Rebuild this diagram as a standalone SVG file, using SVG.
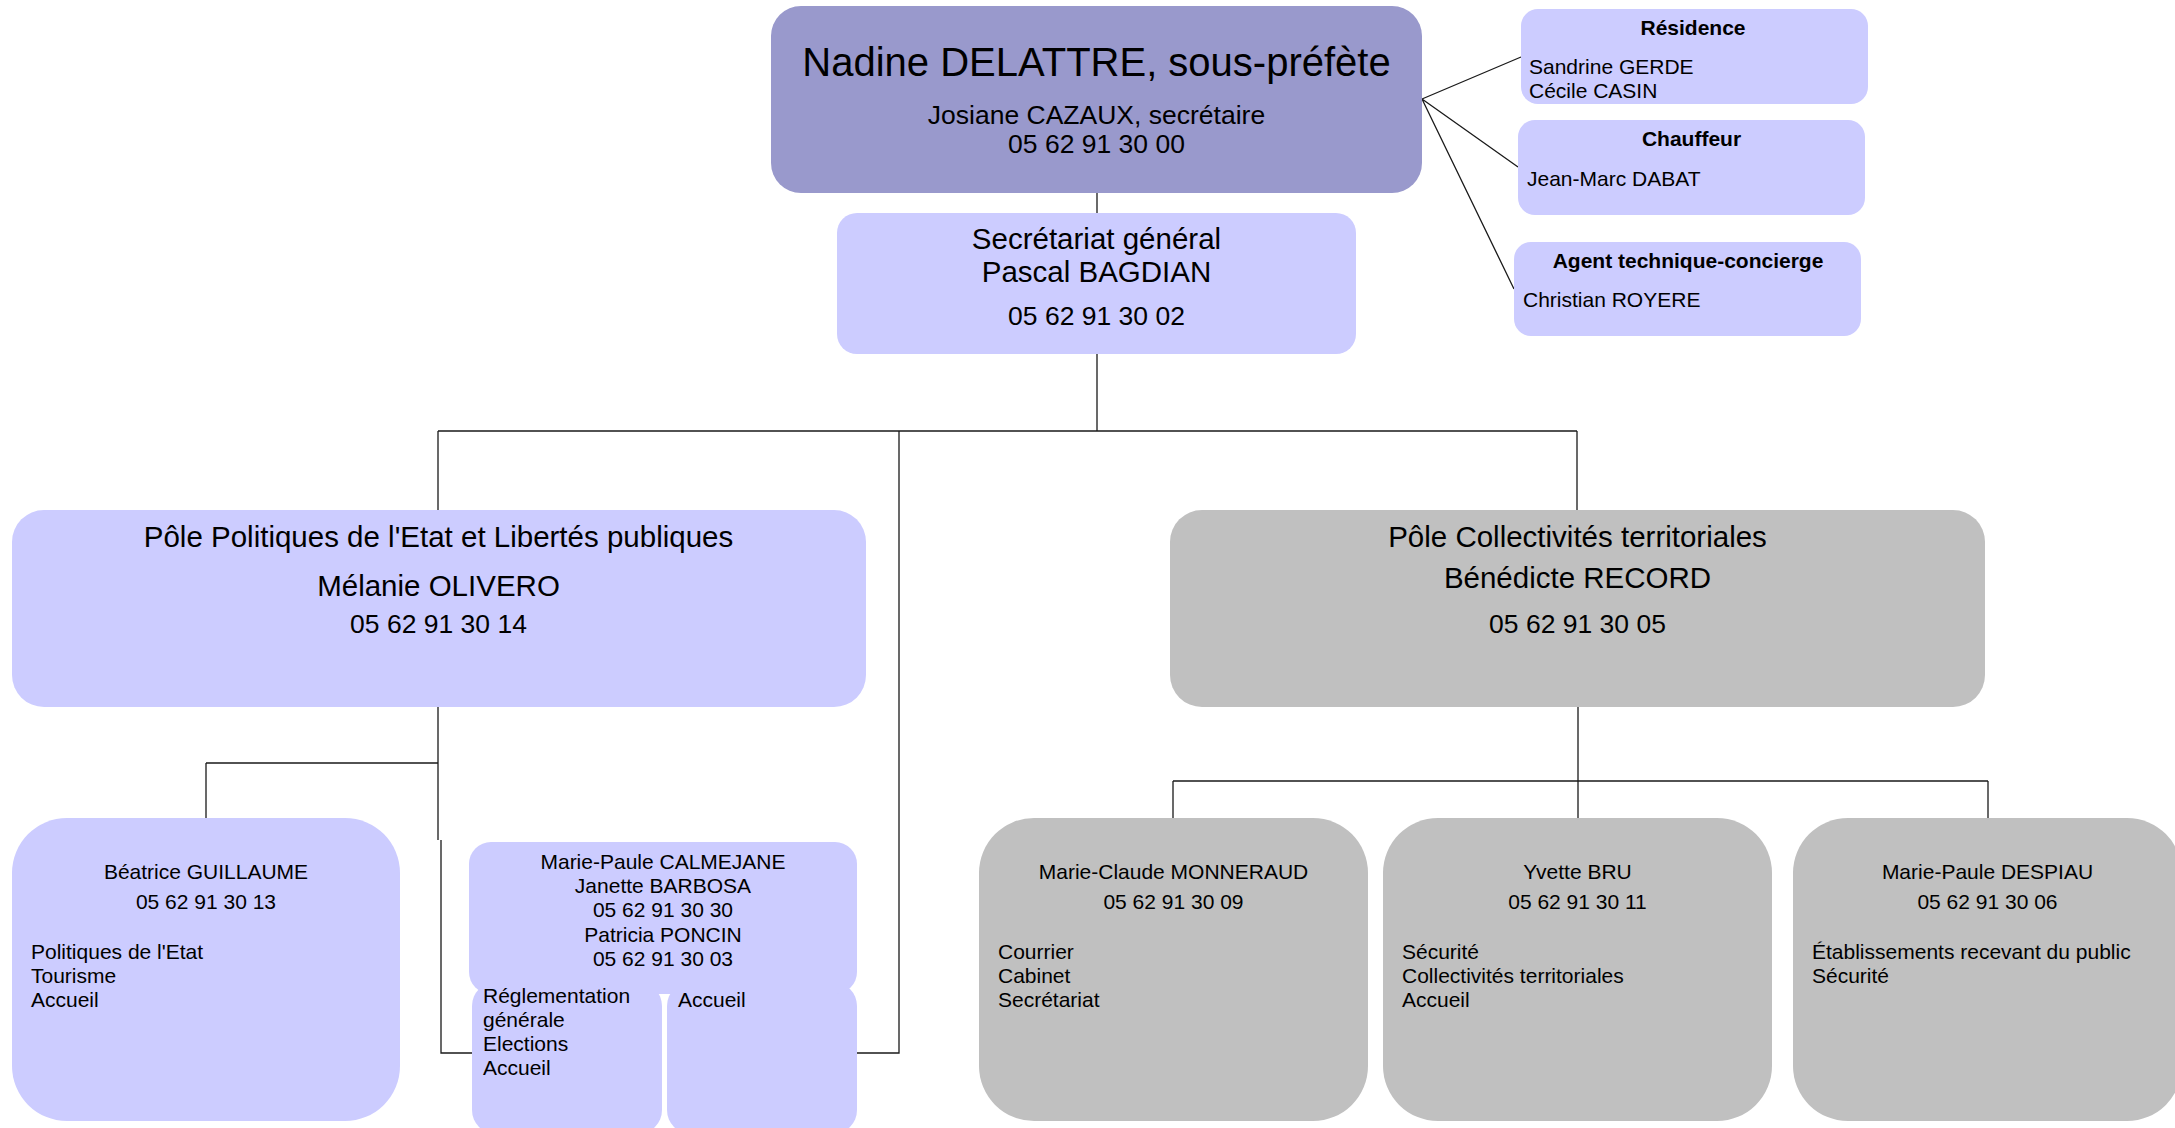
<svg xmlns="http://www.w3.org/2000/svg" width="2175" height="1128" viewBox="0 0 2175 1128">
<style>
text{font-family:"Liberation Sans",Arial,sans-serif;fill:#000}
.c{text-anchor:middle}
.b{font-weight:bold}
.lilac{fill:#ccccff}
.dark{fill:#9999cc}
.gray{fill:#c0c0c0}
.conn{stroke:#1a1a1a;stroke-width:1.3;fill:none}
.s21{font-size:21px}
.s26{font-size:26.5px}
.s29{font-size:29.5px}
</style>
<rect width="2175" height="1128" fill="#ffffff"/>
<g id="connectors">
<path class="conn" d="M1097,193 V213"/>
<path class="conn" d="M1097,354 V431 M438,431 H1577 M438,431 V510 M1577,431 V510"/>
<path class="conn" d="M899,431 V1053 H857"/>
<path class="conn" d="M1422,99 L1521,57 M1422,99 L1518,167 M1422,99 L1514,289"/>
<path class="conn" d="M438,707 V840 M441,840 V1053 H472 M206,763 H438 M206,763 V818"/>
<path class="conn" d="M1578,707 V818 M1173,781 H1988 M1173,781 V818 M1988,781 V818"/>
</g>
<g id="n-sousprefete">
<rect class="dark" x="771" y="6" width="651" height="187" rx="30"/>
<text class="c" x="1096.5" y="76" font-size="40">Nadine DELATTRE, sous-préfète</text>
<text class="c s26" x="1096.5" y="124">Josiane CAZAUX, secrétaire</text>
<text class="c s26" x="1096.5" y="153">05 62 91 30 00</text>
</g>
<g id="n-residence">
<rect class="lilac" x="1521" y="9" width="347" height="95" rx="17"/>
<text class="c s21 b" x="1693" y="35">Résidence</text>
<text class="s21" x="1529" y="74">Sandrine GERDE</text>
<text class="s21" x="1529" y="98">Cécile CASIN</text>
</g>
<g id="n-chauffeur">
<rect class="lilac" x="1518" y="120" width="347" height="95" rx="17"/>
<text class="c s21 b" x="1691.5" y="146">Chauffeur</text>
<text class="s21" x="1527" y="186">Jean-Marc DABAT</text>
</g>
<g id="n-agent">
<rect class="lilac" x="1514" y="242" width="347" height="94" rx="17"/>
<text class="c s21 b" x="1688" y="268">Agent technique-concierge</text>
<text class="s21" x="1523" y="307">Christian ROYERE</text>
</g>
<g id="n-secgen">
<rect class="lilac" x="837" y="213" width="519" height="141" rx="20"/>
<text class="c s29" x="1096.5" y="249">Secrétariat général</text>
<text class="c s29" x="1096.5" y="282">Pascal BAGDIAN</text>
<text class="c s26" x="1096.5" y="325">05 62 91 30 02</text>
</g>
<g id="n-pole-etat">
<rect class="lilac" x="12" y="510" width="854" height="197" rx="32"/>
<text class="c s29" x="438.5" y="547">Pôle Politiques de l'Etat et Libertés publiques</text>
<text class="c s29" x="438.5" y="596">Mélanie OLIVERO</text>
<text class="c s26" x="438.5" y="633">05 62 91 30 14</text>
</g>
<g id="n-pole-coll">
<rect class="gray" x="1170" y="510" width="815" height="197" rx="32"/>
<text class="c s29" x="1577.5" y="547">Pôle Collectivités territoriales</text>
<text class="c s29" x="1577.5" y="588">Bénédicte RECORD</text>
<text class="c s26" x="1577.5" y="633">05 62 91 30 05</text>
</g>
<g id="n-guillaume">
<rect class="lilac" x="12" y="818" width="388" height="303" rx="55"/>
<text class="c s21" x="206" y="879">Béatrice GUILLAUME</text>
<text class="c s21" x="206" y="909">05 62 91 30 13</text>
<text class="s21" x="31" y="959">Politiques de l'Etat</text>
<text class="s21" x="31" y="983">Tourisme</text>
<text class="s21" x="31" y="1007">Accueil</text>
</g>
<g id="n-calmejane">
<rect class="lilac" x="472" y="982" width="190" height="152" rx="24"/>
<rect class="lilac" x="667" y="982" width="190" height="152" rx="24"/>
<rect class="lilac" x="469" y="842" width="388" height="152" rx="22"/>
<text class="c s21" x="663" y="869">Marie-Paule CALMEJANE</text>
<text class="c s21" x="663" y="893">Janette BARBOSA</text>
<text class="c s21" x="663" y="917">05 62 91 30 30</text>
<text class="c s21" x="663" y="942">Patricia PONCIN</text>
<text class="c s21" x="663" y="966">05 62 91 30 03</text>
<text class="s21" x="483" y="1003">Réglementation</text>
<text class="s21" x="483" y="1027">générale</text>
<text class="s21" x="483" y="1051">Elections</text>
<text class="s21" x="483" y="1075">Accueil</text>
<text class="s21" x="678" y="1007">Accueil</text>
</g>
<g id="n-monneraud">
<rect class="gray" x="979" y="818" width="389" height="303" rx="55"/>
<text class="c s21" x="1173.5" y="879">Marie-Claude MONNERAUD</text>
<text class="c s21" x="1173.5" y="909">05 62 91 30 09</text>
<text class="s21" x="998" y="959">Courrier</text>
<text class="s21" x="998" y="983">Cabinet</text>
<text class="s21" x="998" y="1007">Secrétariat</text>
</g>
<g id="n-bru">
<rect class="gray" x="1383" y="818" width="389" height="303" rx="55"/>
<text class="c s21" x="1577.5" y="879">Yvette BRU</text>
<text class="c s21" x="1577.5" y="909">05 62 91 30 11</text>
<text class="s21" x="1402" y="959">Sécurité</text>
<text class="s21" x="1402" y="983">Collectivités territoriales</text>
<text class="s21" x="1402" y="1007">Accueil</text>
</g>
<g id="n-despiau">
<rect class="gray" x="1793" y="818" width="389" height="303" rx="55"/>
<text class="c s21" x="1987.5" y="879">Marie-Paule DESPIAU</text>
<text class="c s21" x="1987.5" y="909">05 62 91 30 06</text>
<text class="s21" x="1812" y="959">Établissements recevant du public</text>
<text class="s21" x="1812" y="983">Sécurité</text>
</g>
</svg>
